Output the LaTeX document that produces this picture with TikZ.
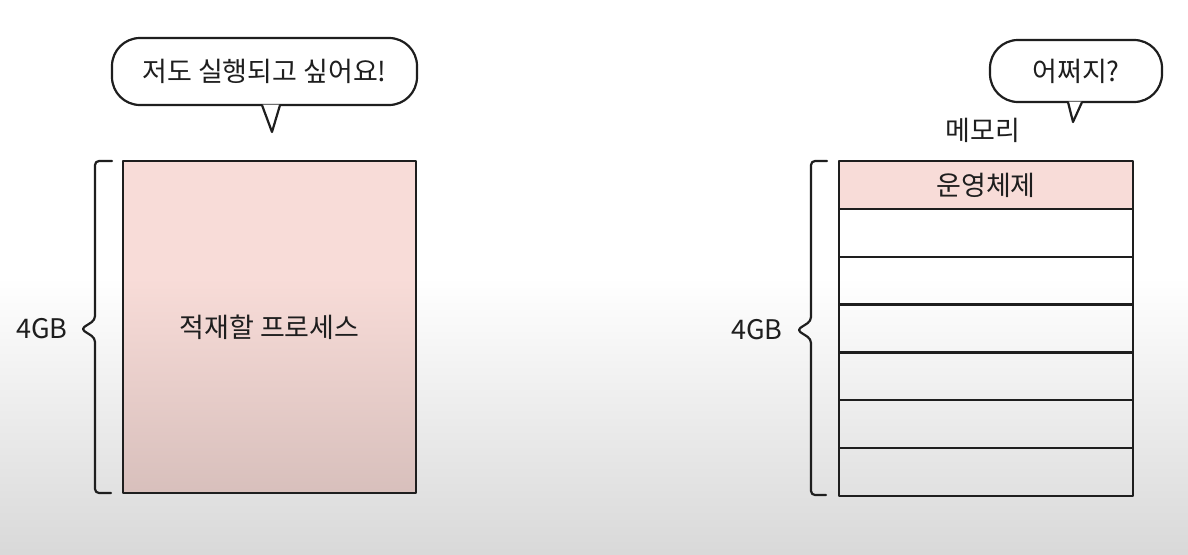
\documentclass[tikz,border=0pt]{standalone}
\usepackage{fontspec}
\setmainfont{Noto Sans CJK KR}
\definecolor{inkc}{HTML}{1E1E1E}
\definecolor{pinkc}{HTML}{F8DCD8}
\colorlet{pinkd}{pinkc!87!black}
\colorlet{bgd}{white!85!black}
\pgfdeclareverticalshading{bgshade}{100bp}{color(0bp)=(bgd); color(25bp)=(bgd); color(50bp)=(white); color(100bp)=(white)}
\pgfdeclareverticalshading{boxshade}{100bp}{color(0bp)=(pinkd); color(25bp)=(pinkd); color(57.5bp)=(pinkc); color(100bp)=(pinkc)}
\begin{document}
\begin{tikzpicture}[x=1pt,y=-1pt,
  ink/.style={draw=inkc, line width=2.2pt, line join=round, line cap=round},
  txt/.style={font=\fontsize{27}{27}\selectfont, text=inkc, inner sep=0pt},
  bubble/.style={ink, fill=white, rounded corners=28pt, inner sep=0pt, txt},
  procbox/.style={ink, shading=boxshade, inner sep=0pt, txt, minimum width=293pt, minimum height=332pt},
  memrow/.style={ink, inner sep=0pt, txt, minimum width=294pt, minimum height=47.86pt},
  brace/.style={ink, rounded corners=4pt}]
\useasboundingbox (0,0) rectangle (1188,554);
\shade[shading=bgshade] (0,0) rectangle (1188,554);

% left side
\node[procbox] (proc) at (269.5,327) {적재할 프로세스};
\node[txt] (gbl) at (42,329) {4GB};
\draw[brace] (112,161) -- (95,161) -- (95,320) -- (81,329) -- (95,338) -- (95,493) -- (111,493);

\node[bubble, minimum width=305pt, minimum height=67pt] (b1) at (264.5,71.5) {저도 실행되고 싶어요!};
\coordinate (t1) at (272,132);
\fill[white] ([xshift=-2.5pt,yshift=1.5pt]b1.south) -- (t1) -- ([xshift=15.5pt,yshift=1.5pt]b1.south) -- cycle;
\draw[ink] ([xshift=-2.5pt,yshift=1pt]b1.south) -- (t1) -- ([xshift=15.5pt,yshift=1pt]b1.south);

% right side
\node[memrow, fill=pinkc] (r1) at (986,184.93) {운영체제};
\foreach \i in {2,...,7}{
  \node[memrow] (r\i) at (986,{184.93+(\i-1)*47.86}) {};
}
\node[txt] (memlbl) at (983,130) {메모리};
\node[txt] (gbr) at (757,330) {4GB};
\draw[brace] (827,161) -- (811,161) -- (811,321) -- (797,330) -- (811,339) -- (811,495) -- (826,495);

\node[bubble, minimum width=172pt, minimum height=62pt] (b2) at (1076,71) {어쩌지?};
\coordinate (t2) at (1073,122);
\fill[white] ([xshift=-8pt,yshift=1.5pt]b2.south) -- (t2) -- ([xshift=6pt,yshift=1.5pt]b2.south) -- cycle;
\draw[ink] ([xshift=-8pt,yshift=1pt]b2.south) -- (t2) -- ([xshift=6pt,yshift=1pt]b2.south);
\end{tikzpicture}
\end{document}
